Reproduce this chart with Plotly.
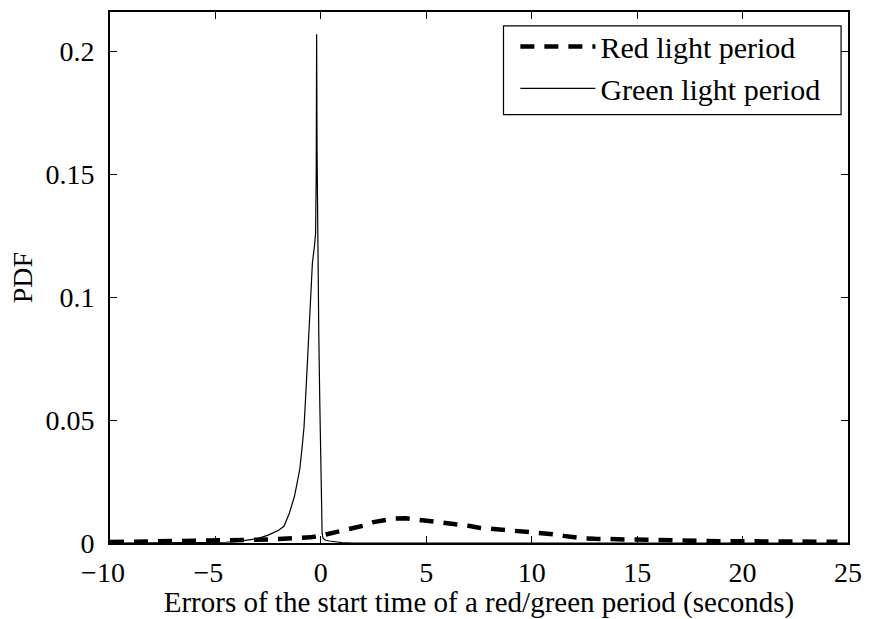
import plotly.graph_objects as go

# ---- data ----
red_x = [-10, -9, -8, -7, -6, -5, -4, -3, -2, -1, -0.5, 0, 0.5, 1, 1.5, 2, 2.5, 3,
         3.5, 4, 4.5, 5, 5.5, 6, 6.5, 7, 7.5, 8, 8.5, 9, 9.5, 10, 10.5, 11, 11.5,
         12, 12.5, 13, 14, 15, 16, 17, 18, 19, 20, 21, 22, 23, 24, 24.5]
red_y = [0.0004, 0.0005, 0.0005, 0.0006, 0.0007, 0.0009, 0.0011, 0.0013, 0.0016,
         0.0020, 0.0023, 0.0030, 0.0039, 0.0050, 0.0060, 0.0070, 0.0085, 0.0094,
         0.0099, 0.0101, 0.0096, 0.0090, 0.0087, 0.0083, 0.0078, 0.0070, 0.0062,
         0.0058, 0.0054, 0.0051, 0.0049, 0.0046, 0.0041, 0.0036, 0.0029, 0.0023,
         0.0019, 0.0017, 0.0015, 0.0011, 0.0009, 0.0008, 0.0007, 0.0007, 0.0007,
         0.0006, 0.0006, 0.0006, 0.0005, 0.0005]

green_x = [-10, -6, -5, -4.5, -4, -3.5, -3, -2.5, -2.0, -1.75, -1.5, -1.25, -1.0,
           -0.9, -0.8, -0.7, -0.6, -0.5, -0.4, -0.3, -0.25, -0.22, -0.2, -0.18,
           -0.15, -0.1, -0.05, 0.0, 0.03, 0.06, 0.1, 0.2, 0.4, 0.7, 1.0, 1.5, 3, 25]
green_y = [0, 0, 0.0001, 0.0003, 0.0006, 0.0011, 0.0018, 0.0032, 0.0052, 0.0068,
           0.012, 0.019, 0.030, 0.038, 0.047, 0.063, 0.081, 0.100, 0.114, 0.121,
           0.126, 0.150, 0.207, 0.160, 0.115, 0.086, 0.057, 0.028, 0.010, 0.004,
           0.002, 0.0012, 0.0008, 0.0004, 0.0002, 0, 0, 0]

series_names = ["Red light period", "Green light period"]

x_ticks = [-10, -5, 0, 5, 10, 15, 20, 25]
# MATLAB centres the digits on the tick and lets the minus sign hang left
x_ticktext = ["\u221210\u2002", "\u22125\u2002", "0", "5", "10", "15", "20", "25"]
y_ticks = [0, 0.05, 0.1, 0.15, 0.2]
y_ticktext = ["0", "0.05", "0.1", "0.15", "0.2"]

FONT = "Liberation Serif"
FS = 28

# plot-area geometry (pixels)
L, R, T, B = 109.5, 17, 10, 76
W, H = 872, 619
PW, PH = W - L - R, H - T - B


def px_x(p):
    return (p - L) / PW


def px_y(p):
    return (H - B - p) / PH


fig = go.Figure()
fig.add_trace(go.Scatter(x=red_x, y=red_y, mode="lines", name=series_names[0],
                         line=dict(color="black", width=4.5, dash="14px,10px")))
fig.add_trace(go.Scatter(x=green_x, y=green_y, mode="lines", name=series_names[1],
                         line=dict(color="black", width=1.2)))

axis_common = dict(showline=True, linecolor="black", linewidth=1.8, mirror="ticks",
                   ticks="inside", ticklen=7, tickwidth=1, tickcolor="black",
                   showgrid=False, zeroline=False,
                   tickfont=dict(family=FONT, size=FS, color="black"))

# legend frame (white box with black border)
fig.add_shape(type="rect", xref="paper", yref="paper",
              x0=px_x(507), x1=px_x(848), y0=px_y(113), y1=px_y(24),
              line=dict(color="black", width=1.2), fillcolor="white", layer="above")

fig.update_layout(
    width=W, height=H,
    margin=dict(l=L, r=R, t=T, b=B),
    paper_bgcolor="white", plot_bgcolor="white",
    font=dict(family=FONT, size=FS, color="black"),
    xaxis=dict(range=[-10, 25], tickvals=x_ticks, ticktext=x_ticktext,
               title=dict(text="Errors of the start time of a red/green period (seconds)",
                          font=dict(family=FONT, size=29), standoff=0),
               ticklabelstandoff=3, **axis_common),
    yaxis=dict(range=[0, 0.216], tickvals=y_ticks, ticktext=y_ticktext,
               title=dict(text="PDF", font=dict(family=FONT, size=FS), standoff=5),
               ticklabelstandoff=8, **axis_common),
    legend=dict(x=px_x(519), y=px_y(18.5), xanchor="left", yanchor="top",
                bgcolor="rgba(0,0,0,0)", borderwidth=0,
                font=dict(family=FONT, size=30, color="black"),
                itemwidth=75, tracegroupgap=0),
    showlegend=True,
)

fig.write_html("out.html")
